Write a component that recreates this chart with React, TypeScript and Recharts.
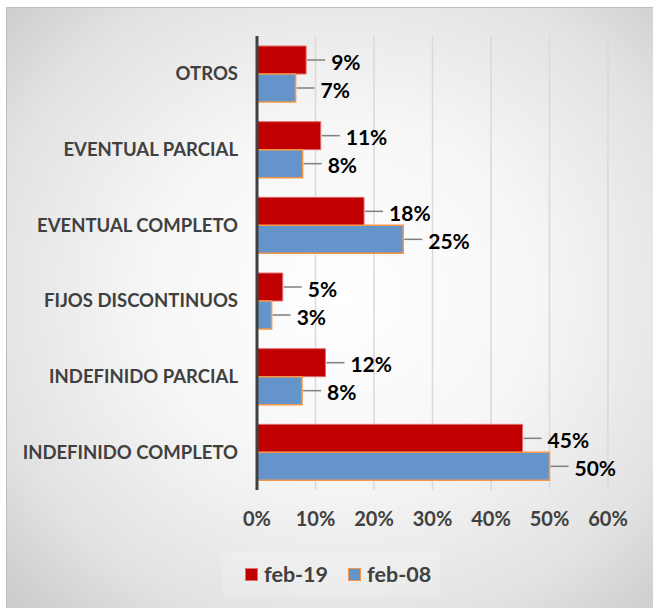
import React from 'react';
import {
  BarChart,
  Bar,
  XAxis,
  YAxis,
  CartesianGrid,
  Legend,
  LabelList,
} from 'recharts';

const categories = [
  'OTROS',
  'EVENTUAL PARCIAL',
  'EVENTUAL COMPLETO',
  'FIJOS DISCONTINUOS',
  'INDEFINIDO PARCIAL',
  'INDEFINIDO COMPLETO',
];
const feb19 = [8.4, 10.9, 18.3, 4.4, 11.7, 45.4];
const feb08 = [6.6, 7.8, 25.0, 2.5, 7.7, 50.0];
const feb19Labels = ['9%', '11%', '18%', '5%', '12%', '45%'];
const feb08Labels = ['7%', '8%', '25%', '3%', '8%', '50%'];
const xTicks = [0, 10, 20, 30, 40, 50, 60];

const data = categories.map((name, i) => ({
  name,
  feb19: feb19[i],
  feb08: feb08[i],
}));

const FONT = 'Lato, "Open Sans", sans-serif';
const RED = '#C00000';
const BLUE = '#6594CB';
const ORANGE = '#F79646';

const makeLabel = (labels: string[]) => (props: any) => {
  const { x, y, width, height, index } = props;
  const end = Number(x) + Number(width);
  const cy = Number(y) + Number(height) / 2;
  return (
    <g>
      <line x1={end + 1} y1={cy} x2={end + 19} y2={cy} stroke="#7f7f7f" strokeWidth={1.5} />
      <text
        x={end + 25}
        y={cy + 1}
        dominantBaseline="central"
        fontFamily={FONT}
        fontWeight={700}
        fontSize={21}
        fill="#000"
      >
        {labels[index]}
      </text>
    </g>
  );
};

function LegendBox() {
  const item = (color: string, stroke: string, text: string) => (
    <div style={{ display: 'flex', alignItems: 'center', marginRight: 20, whiteSpace: 'nowrap' }}>
      <span
        style={{
          display: 'inline-block',
          width: 11,
          height: 11,
          background: color,
          border: `1.5px solid ${stroke}`,
          marginRight: 6,
        }}
      />
      <span>{text}</span>
    </div>
  );
  return (
    <div
      style={{
        height: 46,
        display: 'flex',
        alignItems: 'center',
        paddingLeft: 22,
        boxSizing: 'border-box',
        background: 'rgba(255,255,255,0.2)',
        fontFamily: FONT,
        fontWeight: 700,
        fontSize: 21.5,
        color: '#404040',
        whiteSpace: 'nowrap',
      }}
    >
      {item(RED, '#e07070', 'feb-19')}
      {item(BLUE, ORANGE, 'feb-08')}
    </div>
  );
}

export default function App() {
  return (
    <div
      style={{
        position: 'absolute',
        left: 6,
        top: 7,
        width: 647,
        height: 601,
        borderLeft: '1px solid #bdbdbd',
        borderTop: '1px solid #bdbdbd',
        boxSizing: 'border-box',
        background:
          'radial-gradient(ellipse 75% 75% at 52% 48%, #ffffff 0%, #f6f6f6 40%, #e2e2e2 75%, #c8c8c8 100%)',
      }}
    >
      <BarChart
        width={646}
        height={600}
        data={data}
        layout="vertical"
        margin={{ top: 28, right: 45, left: 0, bottom: 22 }}
        barSize={28}
        barGap={0}
      >
        <CartesianGrid horizontal={false} stroke="#d9d9d9" strokeWidth={1.5} />
        <XAxis
          type="number"
          domain={[0, 60]}
          ticks={xTicks}
          tickFormatter={(v: number) => `${v}%`}
          axisLine={false}
          tickLine={false}
          tickSize={0}
          tickMargin={22}
          height={50}
          tick={{ fill: '#404040', fontSize: 20, fontWeight: 700, fontFamily: FONT }}
        />
        <YAxis
          type="category"
          dataKey="name"
          width={250}
          axisLine={{ stroke: '#404040', strokeWidth: 3 }}
          tickLine={false}
          tickSize={0}
          tickMargin={19}
          tick={{ fill: '#404040', fontSize: 18.5, fontWeight: 700, fontFamily: FONT }}
        />
        <Legend
          verticalAlign="bottom"
          content={() => <LegendBox />}
          wrapperStyle={{ left: 216, width: 217, height: 46, top: 543 }}
        />
        <Bar dataKey="feb19" name="feb-19" fill={RED} stroke="#e07070" strokeWidth={1} isAnimationActive={false}>
          <LabelList dataKey="feb19" content={makeLabel(feb19Labels)} />
        </Bar>
        <Bar dataKey="feb08" name="feb-08" fill={BLUE} stroke={ORANGE} strokeWidth={1.5} isAnimationActive={false}>
          <LabelList dataKey="feb08" content={makeLabel(feb08Labels)} />
        </Bar>
      </BarChart>
    </div>
  );
}
